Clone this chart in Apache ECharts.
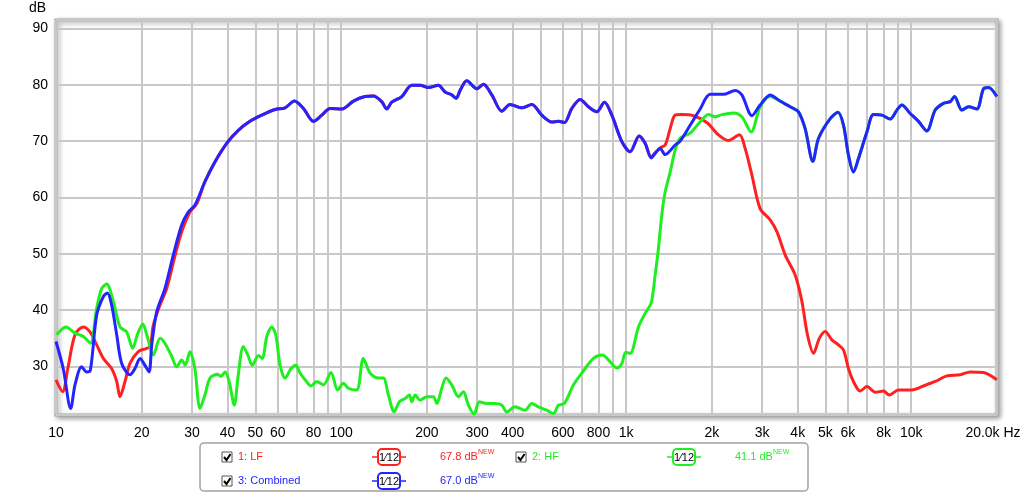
<!DOCTYPE html>
<html>
<head>
<meta charset="utf-8">
<script src="https://cdn.jsdelivr.net/npm/echarts@6/dist/echarts.min.js"></script>
<style>
html,body{margin:0;padding:0;background:#fff;}
#c{width:1024px;height:495px;}
</style>
</head>
<body>
<div id="c"></div>
<script>
// ---------- DATA ----------
const combFreq = [10, 10.6, 11.26, 11.66, 12.3, 12.8, 13.2, 13.89, 14.66, 15.14, 15.67, 16.33, 17.0, 18.18, 18.93, 19.72, 20.5, 21.2, 21.67, 22.56, 24.1, 25.8, 27.6, 29.1, 30.7, 33.3, 36.1, 39.7, 43.6, 47.9, 52.7, 58.7, 63.6, 68.6, 73.8, 80.0, 85.6, 91.5, 100.6, 110.5, 121.4, 129.8, 138.9, 144.6, 150.6, 163.3, 177, 189.3, 202.5, 219.5, 231.7, 244.5, 253.3, 261.6, 276, 299.3, 315.8, 337.9, 366.4, 391.7, 430.5, 466.9, 506, 548.5, 578.8, 607.5, 644.9, 689.7, 737.6, 789, 839.4, 891, 966, 1033, 1111, 1166, 1224, 1264, 1316, 1371, 1486, 1547, 1677, 1818, 1971, 2195, 2413, 2547, 2761, 2952, 3200, 3469, 3761, 4023, 4246, 4519, 4731, 5200, 5534, 5789, 6025, 6273, 6532, 6993, 7375, 7890, 8440, 8912, 9275, 9920, 10608, 11350, 12140, 12980, 13710, 14190, 15060, 15890, 17000, 17940, 18670, 19980];
const combDb = [34.4, 29.6, 22.5, 26.7, 29.9, 29.0, 29.3, 39.1, 42.4, 43.0, 40.9, 35.6, 30.5, 28.5, 29.6, 31.4, 30.2, 29.0, 33.8, 39.7, 43.8, 49.8, 55.1, 57.4, 58.6, 62.8, 66.3, 69.6, 71.9, 73.5, 74.6, 75.6, 75.9, 77.1, 75.8, 73.5, 74.6, 75.8, 75.7, 77.1, 77.9, 78.0, 77.0, 75.7, 76.9, 77.9, 79.9, 79.9, 79.5, 79.9, 78.7, 78.2, 77.6, 79.0, 80.7, 79.3, 80.1, 78.2, 75.3, 76.5, 75.9, 76.5, 74.6, 73.4, 73.5, 73.3, 75.8, 77.4, 76.1, 75.2, 76.9, 74.6, 69.9, 68.1, 70.9, 69.6, 67.0, 67.8, 68.7, 67.6, 69.3, 70.0, 72.8, 75.7, 78.3, 78.3, 79.0, 78.2, 74.5, 76.4, 78.2, 77.1, 76.1, 75.2, 72.2, 66.4, 70.5, 74.0, 75.1, 72.8, 67.5, 64.5, 66.9, 71.6, 74.7, 74.6, 73.9, 75.5, 76.4, 74.9, 73.5, 71.8, 75.5, 76.7, 77.0, 77.9, 75.5, 76.1, 75.7, 79.3, 79.5, 77.9];

const lfFreq = [10, 10.55, 11.0, 11.66, 12.47, 13.16, 13.89, 14.66, 15.67, 16.33, 16.77, 17.46, 18.18, 19.44, 20.8, 21.4, 21.95, 23.17, 24.45, 26.2, 27.6, 29.5, 31.2, 33.3, 36.1, 39.7, 43.6, 47.9, 52.7, 58.7, 63.6, 68.6, 73.8, 80.0, 85.6, 91.5, 100.6, 110.5, 121.4, 129.8, 138.9, 144.6, 150.6, 163.3, 177, 189.3, 202.5, 219.5, 231.7, 244.5, 253.3, 261.6, 276, 299.3, 315.8, 337.9, 366.4, 391.7, 430.5, 466.9, 506, 548.5, 578.8, 607.5, 644.9, 689.7, 737.6, 789, 839.4, 891, 966, 1033, 1111, 1166, 1224, 1264, 1316, 1371, 1427, 1486, 1568, 1722, 1919, 2108, 2286, 2497, 2615, 2761, 2952, 3200, 3380, 3613, 3917, 4137, 4326, 4543, 4766, 4990, 5271, 5559, 5789, 6025, 6273, 6622, 6993, 7476, 7998, 8375, 9028, 10058, 11040, 12140, 13340, 14860, 16110, 17940, 19980];
const lfDb = [27.6, 25.5, 29.6, 35.6, 37.0, 36.1, 33.8, 31.4, 29.6, 27.3, 24.6, 27.3, 30.5, 32.6, 33.2, 33.5, 37.3, 40.9, 43.8, 49.8, 53.9, 57.4, 58.9, 62.8, 66.3, 69.6, 71.9, 73.5, 74.6, 75.6, 75.9, 77.1, 75.8, 73.5, 74.6, 75.8, 75.7, 77.1, 77.9, 78.0, 77.0, 75.7, 76.9, 77.9, 79.9, 79.9, 79.5, 79.9, 78.7, 78.2, 77.6, 79.0, 80.7, 79.3, 80.1, 78.2, 75.3, 76.5, 75.9, 76.5, 74.6, 73.4, 73.5, 73.3, 75.8, 77.4, 76.1, 75.2, 76.9, 74.6, 69.9, 68.1, 70.9, 69.6, 67.2, 67.9, 68.8, 69.3, 72.2, 74.6, 74.7, 74.5, 73.3, 71.1, 70.1, 71.1, 68.7, 64.0, 58.0, 56.0, 53.9, 49.8, 46.2, 41.5, 35.6, 32.3, 35.0, 36.2, 34.7, 33.8, 32.9, 29.6, 27.3, 25.6, 26.4, 25.4, 25.6, 24.9, 25.8, 25.8, 26.5, 27.3, 28.3, 28.5, 29.0, 28.9, 27.6];

const hfFreq = [10.05, 10.84, 11.66, 12.47, 13.2, 13.89, 14.46, 15.06, 15.89, 16.77, 17.7, 18.58, 19.29, 20.15, 20.9, 21.95, 23.17, 24.1, 25.5, 26.5, 27.6, 28.4, 29.5, 30.7, 32.0, 33.3, 34.7, 36.9, 37.9, 39.2, 40.5, 42.2, 43.6, 45.4, 47.1, 48.8, 51.3, 52.9, 54.9, 57.1, 59.0, 61.1, 63.6, 66.8, 69.3, 71.8, 74.8, 78.5, 82.2, 86.7, 92.2, 97.3, 101.9, 106.1, 113.5, 119.7, 126.4, 135.2, 140.7, 146.6, 153.5, 160.2, 167.7, 173.7, 177, 182, 189.3, 199.8, 210.8, 216.7, 225.6, 233.5, 244.5, 258, 268.6, 279.7, 292.9, 305.6, 324.5, 347, 366.4, 381.3, 407.7, 442.2, 466.9, 492.5, 526.8, 555.8, 578.8, 607.5, 653.4, 699, 768, 826, 879, 928, 966, 997, 1033, 1105, 1166, 1224, 1264, 1298, 1334, 1371, 1427, 1486, 1547, 1677, 1818, 1945, 2052, 2167, 2380, 2547, 2745, 2952, 3200, 3469, 3761, 4023, 4246, 4519, 4731, 5200, 5534, 5789, 6025, 6273, 6532, 6993, 7375, 7890, 8440, 8912, 9275, 9920, 10608, 11350, 12140, 12980, 13710, 14190, 15060, 15890, 17000, 17940, 18670, 19980];
const hfDb = [35.6, 37.0, 35.9, 35.3, 34.1, 40.3, 43.8, 44.6, 41.5, 37.0, 36.1, 33.2, 35.6, 37.5, 35.3, 32.0, 35.0, 34.1, 31.7, 29.9, 31.1, 30.2, 32.6, 29.6, 22.5, 24.9, 27.9, 28.6, 28.2, 29.0, 27.3, 23.1, 28.5, 33.5, 32.0, 30.2, 31.9, 31.4, 35.3, 37.0, 35.6, 30.2, 27.9, 29.6, 30.2, 28.8, 27.6, 26.5, 27.3, 26.7, 28.9, 25.8, 27.0, 26.1, 25.8, 31.4, 28.8, 27.9, 27.9, 24.9, 21.9, 23.7, 24.3, 24.9, 23.7, 24.9, 24.0, 24.6, 24.6, 23.4, 26.1, 27.9, 26.7, 24.6, 25.5, 23.1, 21.5, 23.7, 23.4, 23.4, 23.1, 21.9, 22.8, 22.2, 23.4, 22.8, 22.2, 21.6, 23.1, 23.4, 26.7, 28.8, 31.4, 32.0, 30.8, 29.7, 30.5, 32.5, 32.3, 37.0, 39.4, 41.2, 46.2, 50.9, 56.9, 61.0, 64.5, 68.4, 70.5, 71.4, 73.4, 74.7, 74.3, 74.7, 75.0, 74.3, 71.6, 76.1, 77.9, 77.1, 76.1, 75.2, 72.2, 66.4, 70.5, 74.0, 75.1, 72.8, 67.5, 64.5, 66.9, 71.6, 74.7, 74.6, 73.9, 75.5, 76.4, 74.9, 73.5, 71.8, 75.5, 76.7, 77.0, 77.9, 75.5, 76.1, 75.7, 79.3, 79.5, 77.9];

const gridFreqs = [10,20,30,40,50,60,70,80,90,100,200,300,400,500,600,700,800,900,1000,2000,3000,4000,5000,6000,7000,8000,9000,10000,20000];
const xTickLabels = {10:'10',20:'20',30:'30',40:'40',50:'50',60:'60',80:'80',100:'100',200:'200',300:'300',400:'400',600:'600',800:'800',1000:'1k',2000:'2k',3000:'3k',4000:'4k',5000:'5k',6000:'6k',8000:'8k',10000:'10k',20000:'20.0k Hz'};
const yTicks = [30,40,50,60,70,80,90];
const X_MIN = 10, X_MAX = 20000, Y_MIN = 21.35, Y_MAX = 91.5;

const seriesNames = ['1: LF', '2: HF', '3: Combined'];
const levels = ['67.8 dB', '41.1 dB', '67.0 dB'];
const COLORS = {lf:'#ff2020', hf:'#1fee1f', comb:'#2424ff'};

// ---------- CHART ----------
const zip = (a,b) => a.map((v,i)=>[v,b[i]]);
const chart = echarts.init(document.getElementById('c'), null, {renderer:'canvas'});
const FONT = 'Liberation Sans, Arial, sans-serif';

function legendItem(x, y, color, name) {
  const els = [];
  els.push({type:'rect', shape:{x:x, y:y-5, width:10, height:10}, style:{fill:'#fff', stroke:'#555', lineWidth:1}});
  els.push({type:'polyline', shape:{points:[[x+2,y],[x+4.5,y+3],[x+8.5,y-3]]}, style:{stroke:'#000', lineWidth:2, fill:null}});
  els.push({type:'text', x:x+16, y:y, style:{text:name, fill:color, font:'11px '+FONT, verticalAlign:'middle'}});
  return els;
}
function symItem(x, y, color, level) {
  const els = [];
  els.push({type:'line', shape:{x1:x, y1:y, x2:x+34, y2:y}, style:{stroke:color, lineWidth:1.5}});
  els.push({type:'rect', shape:{x:x+6, y:y-8, width:22, height:16, r:4}, style:{fill:'#fff', stroke:color, lineWidth:2}});
  els.push({type:'text', x:x+17, y:y+0.5, style:{text:'1⁄12', fill:'#000', font:'11px '+FONT, align:'center', verticalAlign:'middle'}});
  els.push({type:'text', x:x+68, y:y, style:{text:level, fill:color, font:'11px '+FONT, verticalAlign:'middle'}});
  els.push({type:'text', x:x+106, y:y-5, style:{text:'NEW', fill:color, font:'7px '+FONT, verticalAlign:'middle'}});
  return els;
}

const legendEls = [
  {type:'rect', shape:{x:200, y:443, width:608, height:48, r:4}, style:{fill:'#fff', stroke:'#a0a0a0', lineWidth:1.5}},
  ...legendItem(222, 457, COLORS.lf, seriesNames[0]),
  ...symItem(372, 457, COLORS.lf, levels[0]),
  ...legendItem(516, 457, COLORS.hf, seriesNames[1]),
  ...symItem(667, 457, COLORS.hf, levels[1]),
  ...legendItem(222, 481, COLORS.comb, seriesNames[2]),
  ...symItem(372, 481, COLORS.comb, levels[2]),
];

const curve = (name, data, color, z) => ({
  name, type:'line', data, showSymbol:false, symbol:'none', smooth:0.3, z,
  lineStyle:{color, width:3}, itemStyle:{color}, silent:true, animation:false
});

chart.setOption({
  animation:false,
  backgroundColor:'#fff',
  grid:{left:56, right:27, top:20, bottom:80, show:true, backgroundColor:'#fff',
        borderColor:'#a6a6a6', borderWidth:3, shadowBlur:5, shadowColor:'rgba(0,0,0,0.35)', shadowOffsetX:2, shadowOffsetY:2},
  xAxis:{type:'log', logBase:10, min:X_MIN, max:X_MAX,
    axisLine:{show:false}, axisTick:{show:false}, axisLabel:{show:false}, splitLine:{show:false}},
  yAxis:{type:'value', min:Y_MIN, max:Y_MAX, splitNumber:7,
    axisLine:{show:false}, axisTick:{show:false},
    axisLabel:{color:'#000', fontSize:14, fontFamily:FONT, margin:8,
      formatter:v => yTicks.indexOf(Math.round(v*1000)/1000) >= 0 ? String(v) : ''},
    splitLine:{show:true, lineStyle:{color:'#c8c8c8', width:2}}},
  graphic:[
    {type:'text', left:29, top:1, style:{text:'dB', fill:'#000', font:'14px '+FONT}},
    {type:'group', children: legendEls}
  ],
  series:[
    {type:'line', data:[[X_MIN, Y_MIN]], symbol:'none', lineStyle:{opacity:0}, silent:true, z:1,
      markLine:{silent:true, z:1, symbol:['none','none'], animation:false,
        lineStyle:{color:'#c8c8c8', width:2, type:'solid'},
        label:{show:true, position:'start', formatter:'{b}', color:'#000', fontSize:14, fontFamily:FONT, distance:11},
        data: gridFreqs.map(f => ({xAxis:f, name: xTickLabels[f] || '',
          label: f === 20000 ? {padding:[0,8,0,0]} : undefined}))
      }},
    curve('LF', zip(lfFreq, lfDb), COLORS.lf, 3),
    curve('HF', zip(hfFreq, hfDb), COLORS.hf, 4),
    curve('Combined', zip(combFreq, combDb), COLORS.comb, 5)
  ]
});
</script>
</body>
</html>
